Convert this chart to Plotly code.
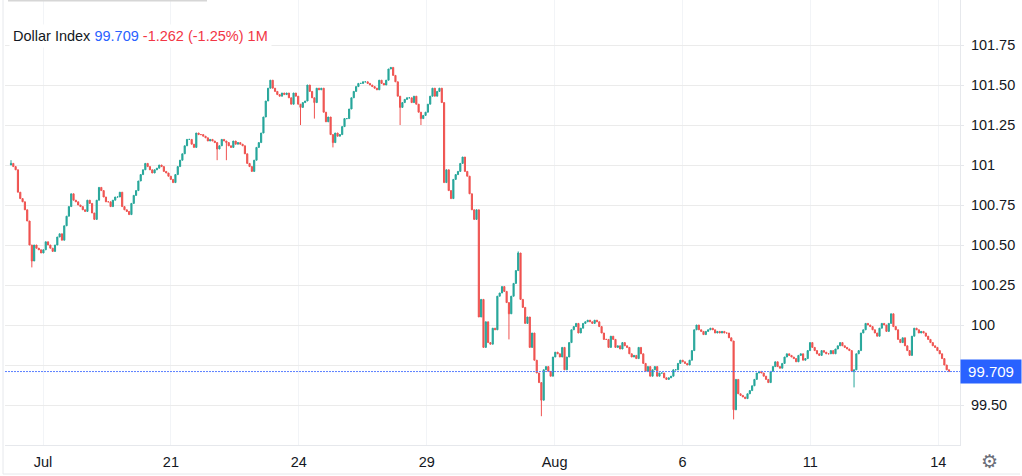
import plotly.graph_objects as go

############# Data (closes, left to right) #############
first_open = 101.00

close_jul = [101.01, 100.99, 100.97, 100.83, 100.79, 100.77, 100.72, 100.65, 100.50, 100.40,
             100.50, 100.48, 100.47, 100.45, 100.47, 100.52, 100.50, 100.48, 100.46, 100.50,
             100.55, 100.57, 100.53, 100.62, 100.68, 100.74, 100.82, 100.78, 100.77, 100.75,
             100.74, 100.72, 100.71, 100.78, 100.76, 100.70, 100.66, 100.78, 100.86, 100.84,
             100.80, 100.77, 100.77, 100.74, 100.78, 100.80, 100.80, 100.83, 100.74, 100.72,
             100.71, 100.69, 100.76, 100.81]

close_21 = [100.84, 100.90, 100.94, 100.97, 101.01, 100.99, 100.97, 100.95, 100.97, 100.98,
            101.00, 100.99, 100.96, 100.95, 100.93, 100.91, 100.89, 100.94, 100.99, 101.03,
            101.07, 101.12, 101.16, 101.16, 101.13, 101.11, 101.20, 101.19, 101.19, 101.18,
            101.17, 101.15, 101.16, 101.15, 101.14, 101.10, 101.12, 101.16, 101.15, 101.14,
            101.12, 101.11, 101.15, 101.13, 101.14, 101.13, 101.12, 101.07, 101.01, 100.99,
            100.96, 101.03, 101.11, 101.14, 101.20]

close_24 = [101.30, 101.40, 101.48, 101.53, 101.48, 101.46, 101.44, 101.43, 101.45, 101.44,
            101.45, 101.42, 101.38, 101.45, 101.43, 101.38, 101.36, 101.39, 101.40, 101.50,
            101.46, 101.42, 101.39, 101.48, 101.47, 101.48, 101.33, 101.27, 101.30, 101.19,
            101.14, 101.20, 101.18, 101.19, 101.24, 101.29, 101.29, 101.35, 101.42, 101.46,
            101.49, 101.51, 101.51, 101.52, 101.52, 101.51, 101.50, 101.49, 101.48, 101.47,
            101.53, 101.51, 101.50, 101.53, 101.60, 101.61, 101.56, 101.52, 101.43, 101.36,
            101.39, 101.41, 101.42, 101.42, 101.39, 101.43, 101.38, 101.33, 101.29, 101.31,
            101.33, 101.38, 101.43, 101.48, 101.43, 101.46, 101.48, 101.39, 100.89]

close_29 = [100.97, 100.84, 100.79, 100.91, 100.94, 100.96, 101.01, 101.05, 100.96, 100.93,
            100.82, 100.72, 100.66, 100.72, 100.05, 100.16, 99.86, 100.02, 99.89, 99.88,
            99.98, 99.97, 100.18, 100.20, 100.24, 100.21, 100.14, 100.07, 100.18, 100.26,
            100.34, 100.45, 100.16, 100.11, 100.01, 100.05, 99.86, 99.95, 99.78, 99.70,
            99.64, 99.53, 99.72, 99.74, 99.71, 99.68, 99.80, 99.83, 99.82, 99.80,
            99.86, 99.72, 99.80, 99.89, 99.97, 99.99, 100.01, 99.95, 99.98, 100.01,
            100.02]

close_aug = [100.03, 100.02, 100.01, 100.03, 100.02, 99.99, 99.95, 99.91, 99.91, 99.86,
             99.93, 99.91, 99.86, 99.87, 99.85, 99.89, 99.87, 99.86, 99.82, 99.80,
             99.81, 99.79, 99.86, 99.82, 99.76, 99.71, 99.74, 99.68, 99.72, 99.74,
             99.68, 99.70, 99.70, 99.67, 99.66, 99.67, 99.68, 99.72, 99.72, 99.76,
             99.78, 99.77, 99.76, 99.75, 99.78, 99.84, 99.97, 100.00, 99.97, 99.96,
             99.94, 99.96, 99.97, 99.98, 99.97, 99.95, 99.96, 99.95, 99.96, 99.95,
             99.95, 99.92, 99.90, 99.47, 99.66, 99.57, 99.56, 99.55, 99.54, 99.57,
             99.59, 99.62, 99.66, 99.70, 99.71, 99.70, 99.68, 99.66, 99.64]

close_11 = [99.71, 99.74, 99.77, 99.74, 99.73, 99.76, 99.80, 99.82, 99.81, 99.80,
            99.79, 99.77, 99.81, 99.82, 99.78, 99.79, 99.84, 99.89, 99.86, 99.84,
            99.82, 99.81, 99.84, 99.83, 99.82, 99.82, 99.84, 99.82, 99.85, 99.87,
            99.89, 99.87, 99.86, 99.85, 99.84, 99.71, 99.72, 99.82, 99.84, 99.95,
            99.97, 100.01, 100.00, 99.99, 99.97, 99.95, 99.93, 99.98, 100.01, 100.00,
            99.96, 100.01, 100.07, 99.99, 99.97, 99.91, 99.89, 99.92, 99.87, 99.84,
            99.81, 99.93, 99.98, 99.97, 99.95, 99.96, 99.95, 99.93, 99.91, 99.89,
            99.87, 99.86, 99.84, 99.82, 99.79, 99.75, 99.72, 99.709]

# wick extremes that stick out past the bodies (candle number -> price)
wick_highs = {0: 101.03, 219: 100.46}
wick_lows = {9: 100.36, 89: 101.03, 93: 101.03, 125: 101.25, 131: 101.29, 139: 101.11,
             168: 101.25, 177: 101.25, 215: 99.91, 229: 99.43, 312: 99.41, 364: 99.61}

tick_labels = ['Jul', '21', '24', '29', 'Aug', '6', '11', '14']
price_ticks = [99.50, 99.75, 100, 100.25, 100.50, 100.75, 101, 101.25, 101.50, 101.75]
price_labels = ['99.50', '99.75', '100', '100.25', '100.50', '100.75', '101', '101.25', '101.50', '101.75']

last_price = 99.709
title_change = '-1.262 (-1.25%) 1M'

############# Data Preprocessing #############
closes = close_jul + close_21 + close_24 + close_29 + close_aug + close_11
opens = [first_open] + closes[:-1]
highs = [max(o, c) for o, c in zip(opens, closes)]
lows = [min(o, c) for o, c in zip(opens, closes)]
for i, v in wick_highs.items():
    highs[i] = max(highs[i], v)
for i, v in wick_lows.items():
    lows[i] = min(lows[i], v)
idx = list(range(len(closes)))

# pixel layout of the original chart -> index positions
W, H = 1022, 476
plot_l, plot_r, plot_b = 5, 960, 445
first_px, last_px = 11, 949
step = (last_px - first_px) / (len(closes) - 1)
to_idx = lambda p: (p - first_px) / step
tick_px = [43 + 127.9 * i for i in range(len(tick_labels))]
tick_vals = [to_idx(p) for p in tick_px]

############# Plotting Chart #############
up, down = '#26a69a', '#ef5350'
fig = go.Figure()
fig.add_trace(go.Candlestick(
    x=idx, open=opens, high=highs, low=lows, close=closes,
    increasing=dict(line=dict(color=up, width=1), fillcolor=up),
    decreasing=dict(line=dict(color=down, width=1), fillcolor=down),
    whiskerwidth=0, hoverinfo='skip', showlegend=False,
))

axis_font = dict(family='Liberation Sans, Arial, sans-serif', size=14.5, color='#131722')
fig.update_layout(
    width=W, height=H,
    margin=dict(l=plot_l, r=W - plot_r, t=0, b=H - plot_b),
    paper_bgcolor='white', plot_bgcolor='white',
    xaxis=dict(
        range=[to_idx(plot_l), to_idx(plot_r)], rangeslider=dict(visible=False),
        tickvals=tick_vals, ticktext=tick_labels, tickfont=axis_font,
        showgrid=True, gridcolor='#f2f4f7', gridwidth=1, zeroline=False,
        showline=True, linecolor='#e6e8ec', linewidth=1, ticks='', ticklabelstandoff=4,
    ),
    yaxis=dict(
        side='right', range=[99.25, 100 + 325 / 160],
        tickvals=price_ticks, ticktext=price_labels, tickfont=axis_font,
        showgrid=True, gridcolor='#ebebeb', gridwidth=1, zeroline=False,
        showline=True, linecolor='#e6e8ec', linewidth=1,
        ticks='outside', ticklen=3, tickcolor='#e6e8ec', ticklabelstandoff=4,
    ),
)

pw = plot_r - plot_l
# last price dotted line + label
fig.add_shape(type='line', xref='paper', yref='y', x0=0, x1=1, y0=last_price, y1=last_price,
              line=dict(color='#5b7fff', width=1, dash='2px,1px'))
fig.add_annotation(xref='paper', yref='y', x=1, y=last_price, xanchor='left', yanchor='middle',
                   text=f'{last_price:.3f}', showarrow=False, bgcolor='#2962ff',
                   font=dict(family='Liberation Sans, Arial, sans-serif', size=15, color='white'),
                   width=56, height=19, borderpad=2)

# title / legend line
fig.add_annotation(
    xref='paper', yref='paper', x=(9 - plot_l) / pw, y=(plot_b - 36) / plot_b,
    xanchor='left', yanchor='middle', showarrow=False, bgcolor='white', borderpad=3,
    text=(f"Dollar Index <span style='color:#2962ff'>{last_price:.3f}</span> "
          f"<span style='color:#f23645'>{title_change}</span>"),
    font=dict(family='Liberation Sans, Arial, sans-serif', size=14.5, color='#131722'),
)

# tab underline at the very top and settings gear
fig.add_shape(type='line', xref='paper', yref='paper', x0=(8 - plot_l) / pw, x1=(207 - plot_l) / pw,
              y0=1, y1=1, line=dict(color='#d6d6d6', width=3))
fig.add_annotation(xref='paper', yref='paper', x=(990 - plot_l) / pw, y=(plot_b - 461) / plot_b,
                   text='⚙', showarrow=False, xanchor='center', yanchor='middle',
                   font=dict(family='DejaVu Sans', size=19, color='#6a6d78'))
# outer frame lines
fig.add_shape(type='line', xref='paper', yref='paper', x0=(3 - plot_l) / pw, x1=(3 - plot_l) / pw,
              y0=(plot_b - 474) / plot_b, y1=1, line=dict(color='#e6e8ec', width=1))
fig.add_shape(type='line', xref='paper', yref='paper', x0=(3 - plot_l) / pw, x1=(1020 - plot_l) / pw,
              y0=(plot_b - 474) / plot_b, y1=(plot_b - 474) / plot_b, line=dict(color='#e6e8ec', width=1))

# page body has a default 8px margin; drop it so the figure fills the window
fig.write_html("out.html", config={'displayModeBar': False},
               post_script="document.body.style.margin='0';")
